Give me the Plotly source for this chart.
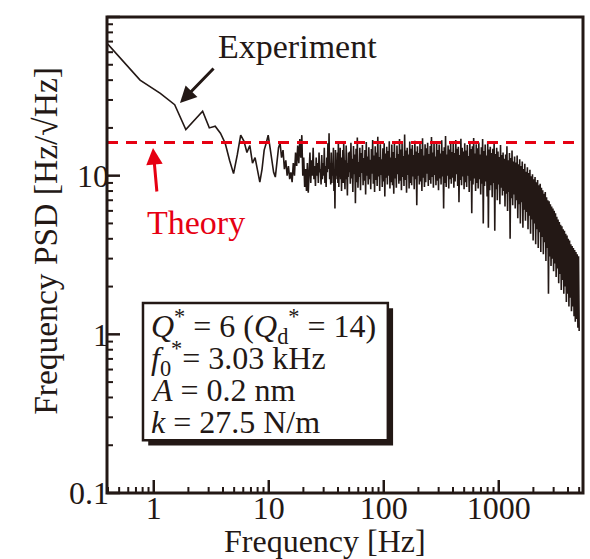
import numpy as np
import plotly.graph_objects as go

# ---- data -------------------------------------------------------------
# low-frequency part of the spectrum: FFT bins spaced by DF (Hz)
DF = 0.38
psd_low = [
    70, 40, 33, 28, 19.5, 22.5, 25.5, 20, 20.5, 18.5, 16, 12.5, 10.3,
    13.5, 18, 16.5, 14, 15.5, 12, 13, 10.5, 9.1, 11, 14.5, 16, 18, 15,
    12, 10.5, 9.8, 12.5, 15, 16, 13, 14.5, 11, 12.5, 10, 11.5, 9.5, 10.5,
    9.1, 12, 10, 14, 11.5, 15.5, 12, 17, 13, 18, 10, 13, 8.5, 11, 8, 12,
    7.8, 10.5, 14, 9, 12.5, 10, 15, 9.5, 11.5, 8.6, 13, 10, 12, 9, 14,
    10.5, 11, 8.8, 13.5, 9.5, 12, 10,
    15, 9, 11.5, 8.5, 13, 10.5, 16, 11, 18.5, 9.5, 12, 8.8, 14, 9, 12, 10,
    15, 8, 11, 6.2, 14.5, 9.5, 12, 10, 14, 9, 16.5, 8.5, 12.5, 10, 15, 9.5,
    13, 8, 13, 10.5, 14.5, 9, 16, 10, 11.5, 8.2, 12.5, 9.5, 15.5, 10, 13.5,
    7.5, 12, 9.8, 14, 10.5,
]

# high-frequency part, sampled on a logarithmic grid between F_HI_START and F_HI_END
F_HI_START = 50.5
F_HI_END = 5000.0
psd_high = [
    14.2, 8.9, 16.1, 9.6, 12.8, 7.9, 15.4, 10.2, 13.6, 6.7, 14.8, 9.1, 17.4, 8.4, 12.2, 9.8, 15.0, 8.1, 13.9, 10.4,
    15.6, 8.7, 12.9, 9.3, 14.5, 7.6, 16.3, 10.0, 13.2, 8.8, 15.1, 9.5, 12.6, 8.2, 14.7, 10.3, 16.8, 8.9, 13.4, 7.9,
    15.3, 9.4, 14.0, 8.6, 17.6, 9.9, 13.1, 8.0, 15.8, 10.1, 12.7, 8.5, 14.9, 9.2, 16.0, 7.4, 13.8, 9.7, 15.2, 8.8,
    14.3, 10.0, 16.5, 8.3, 13.0, 9.1, 15.7, 8.7, 14.1, 7.7, 16.2, 9.6, 12.9, 8.4, 15.5, 10.2, 13.7, 8.9, 17.0, 9.3,
    14.6, 8.1, 15.9, 9.8, 13.3, 8.6, 18.2, 9.4, 14.4, 7.8, 15.0, 10.1, 13.6, 8.3, 16.4, 9.0, 14.8, 8.7, 15.6, 9.9,
    13.5, 8.2, 16.6, 9.5, 14.2, 6.5, 15.3, 10.0, 13.9, 8.8, 16.0, 9.2, 14.7, 8.0, 17.2, 9.7, 13.4, 8.5, 15.8, 9.1,
    14.9, 10.3, 16.1, 8.6, 13.7, 9.4, 15.4, 8.9, 17.5, 9.8, 14.0, 8.4, 15.9, 10.1, 13.2, 8.7, 16.3, 9.3, 14.5, 8.1,
    15.7, 9.6, 13.8, 8.8, 16.7, 9.9, 14.3, 6.2, 15.1, 9.0, 17.8, 8.5, 13.6, 10.0, 15.5, 8.3, 14.6, 9.5, 16.4, 8.9,
    14.1, 9.7, 15.9, 8.4, 13.9, 9.2, 16.8, 10.2, 14.8, 8.6, 15.2, 6.8, 13.5, 9.4, 17.1, 8.7, 15.0, 9.9, 14.2, 8.2,
    16.0, 9.1, 14.4, 8.5, 15.6, 10.0, 13.3, 7.9, 16.5, 9.3, 14.7, 5.8, 15.3, 8.8, 17.3, 9.6, 13.8, 8.0, 15.8, 9.0,
    14.9, 8.3, 16.2, 9.5, 13.6, 7.6, 15.1, 8.9, 17.0, 5.0, 14.3, 8.6, 15.7, 9.2, 13.4, 7.4, 16.4, 4.7, 14.6, 8.1,
    15.2, 8.7, 13.9, 7.3, 14.8, 9.0, 16.1, 4.5, 13.7, 8.2, 15.0, 7.0, 14.2, 8.8, 13.1, 6.6, 15.6, 8.4, 13.5, 7.5,
    14.0, 8.0, 12.8, 6.4, 13.6, 7.7, 15.3, 6.0, 12.5, 7.9, 13.9, 4.0, 12.9, 7.2, 14.4, 6.5, 12.3, 7.6, 13.2, 6.2,
    12.1, 7.0, 13.4, 5.4, 11.8, 6.6, 12.7, 5.0, 11.5, 6.8, 12.3, 4.7, 11.0, 6.1, 11.9, 5.2, 10.6, 5.9, 11.3, 4.6,
    10.4, 5.6, 10.9, 4.3, 9.9, 5.3, 10.2, 3.9, 9.5, 5.0, 9.8, 3.7, 9.1, 4.6, 9.4, 3.5, 8.7, 4.4, 8.9, 3.3,
    8.4, 4.1, 8.1, 3.2, 7.7, 3.8, 7.9, 2.9, 7.3, 3.5, 7.0, 1.8, 6.9, 3.1, 6.6, 2.7, 6.4, 3.0, 6.2, 2.5,
    6.0, 2.8, 5.8, 2.3, 5.5, 2.6, 5.3, 2.1, 5.1, 2.4, 4.9, 1.9, 4.8, 2.2, 4.6, 1.8, 4.5, 2.0, 4.3, 1.6,
    4.2, 1.8, 4.0, 1.5, 3.9, 1.7, 3.7, 1.4, 3.6, 1.5, 3.5, 1.3, 3.4, 1.2, 3.3, 1.25, 3.2, 1.1, 3.1, 1.05,
]

THEORY_PSD = 16.2  # theoretical frequency noise level (Hz/sqrt(Hz))

x_tick_vals = [1, 10, 100, 1000]
x_tick_text = ["1", "10", "100", "1000"]
y_tick_vals = [0.1, 1, 10, 100]
y_tick_text = ["0.1", "1", "10", "100"]

param_lines = [
    "<i>Q</i><sup>*</sup> = 6 (<i>Q</i><sub>d</sub><sup>*</sup> = 14)",
    "<i>f</i><sub>0</sub><sup>*</sup>= 3.03 kHz",
    "<i>A</i> = 0.2 nm",
    "<i>k</i> = 27.5 N/m",
]

# ---- build frequency axis --------------------------------------------
f_low = DF * np.arange(1, len(psd_low) + 1)
f_high = np.geomspace(F_HI_START, F_HI_END, len(psd_high))
freq = np.concatenate([f_low, f_high])
psd = np.array(psd_low + psd_high)

BLACK = "#231815"
RED = "#e60012"
FONT = "Liberation Serif"
X_RANGE = [np.log10(0.392), np.log10(5400)]
Y_RANGE = [-1, 2]
PLOT_PX = 476  # plot area side length in pixels

# tick positions (2..9 of every decade for the short ones)
x_minor = [m * 10.0 ** e for e in range(-1, 4) for m in range(2, 10)
           if 10 ** X_RANGE[0] < m * 10.0 ** e < 10 ** X_RANGE[1]]
y_minor = [m * 10.0 ** e for e in range(-1, 2) for m in range(2, 10)]


def y_frac(v):
    """Fraction of the plot height at which value v sits on the log y axis."""
    return (np.log10(v) - Y_RANGE[0]) / (Y_RANGE[1] - Y_RANGE[0])


fig = go.Figure()
fig.add_trace(go.Scatter(
    x=freq, y=psd, mode="lines",
    line=dict(color=BLACK, width=1.6),
    showlegend=False, hoverinfo="skip",
))

fig.add_hline(y=THEORY_PSD, line=dict(color=RED, width=3, dash="11px,8px"))

common = dict(showgrid=False, zeroline=False, automargin=False, showline=False, ticks="")
fig.update_layout(
    xaxis=dict(
        type="log", range=X_RANGE, **common,
        tickmode="array", tickvals=x_tick_vals, ticktext=x_tick_text,
        ticklabelstandoff=-7,
        tickfont=dict(family=FONT, size=32, color=BLACK),
    ),
    yaxis=dict(
        type="log", range=Y_RANGE, **common,
        tickmode="array", tickvals=y_tick_vals, ticktext=y_tick_text,
        ticklabelstandoff=-3,
        tickfont=dict(family=FONT, size=32, color=BLACK),
    ),
)

# inward tick marks along the bottom and left axes
for vals, ln, w in [(x_tick_vals, 13, 2.5), (x_minor, 6, 2)]:
    for v in vals:
        fig.add_shape(type="line", xref="x", yref="y domain", x0=v, x1=v,
                      y0=0, y1=ln / PLOT_PX, line=dict(color=BLACK, width=w))
for vals, ln, w in [(y_tick_vals, 13, 2.5), (y_minor, 6, 2)]:
    for v in vals:
        fy = float(y_frac(v))
        fig.add_shape(type="line", xref="paper", yref="paper", x0=0, x1=ln / PLOT_PX,
                      y0=fy, y1=fy, line=dict(color=BLACK, width=w))

# frame around the plot area
fig.add_shape(type="rect", xref="paper", yref="paper", x0=0, x1=1, y0=0, y1=1,
              line=dict(color=BLACK, width=3))

# axis titles
fig.add_annotation(xref="paper", yref="paper", x=0.458, y=-0.101,
                   text="Frequency [Hz]", showarrow=False,
                   xanchor="center", yanchor="middle",
                   font=dict(family=FONT, size=32, color=BLACK))
fig.add_annotation(xref="paper", yref="paper", x=-0.128, y=0.53,
                   text="Frequency PSD [Hz/\u221aHz]", showarrow=False, textangle=-90,
                   xanchor="center", yanchor="middle",
                   font=dict(family=FONT, size=33.5, color=BLACK))

# parameter box with drop shadow
bx0, bx1, by0, by1 = 0.0756, 0.590, 0.111, 0.399
sh = 0.011
fig.add_shape(type="rect", xref="paper", yref="paper",
              x0=bx0 + sh, x1=bx1 + sh, y0=by0 - sh, y1=by1 - sh,
              fillcolor=BLACK, line=dict(width=0))
fig.add_shape(type="rect", xref="paper", yref="paper",
              x0=bx0, x1=bx1, y0=by0, y1=by1,
              fillcolor="white", line=dict(color=BLACK, width=2.5))

line_y = [0.349, 0.2836, 0.2164, 0.149]
for txt, yy in zip(param_lines, line_y):
    fig.add_annotation(xref="paper", yref="paper", x=0.088, y=yy,
                       text=txt, showarrow=False, xanchor="left", yanchor="middle",
                       font=dict(family=FONT, size=32, color=BLACK))

# labels with arrows
fig.add_annotation(xref="paper", yref="paper", x=0.401, y=0.937,
                   text="Experiment", showarrow=False,
                   xanchor="center", yanchor="middle",
                   font=dict(family=FONT, size=34, color=BLACK))
fig.add_annotation(xref="paper", yref="paper", x=(180 - 107) / 476, y=(493 - 103) / 476,
                   text="", showarrow=True, ax=35, ay=-36,
                   arrowhead=2, arrowsize=1.1, arrowwidth=3, arrowcolor=BLACK)
fig.add_annotation(xref="paper", yref="paper", x=0.187, y=0.569,
                   text="Theory", showarrow=False,
                   xanchor="center", yanchor="middle",
                   font=dict(family=FONT, size=34, color=RED))
fig.add_annotation(xref="paper", yref="paper", x=(153 - 107) / 476, y=(493 - 148) / 476,
                   text="", showarrow=True, ax=4, ay=45,
                   arrowhead=2, arrowsize=1.1, arrowwidth=3, arrowcolor=RED)

fig.update_layout(
    width=590, height=559,
    margin=dict(l=107, r=7, t=17, b=66),
    paper_bgcolor="white", plot_bgcolor="white",
    showlegend=False,
)

fig.write_html("out.html")
